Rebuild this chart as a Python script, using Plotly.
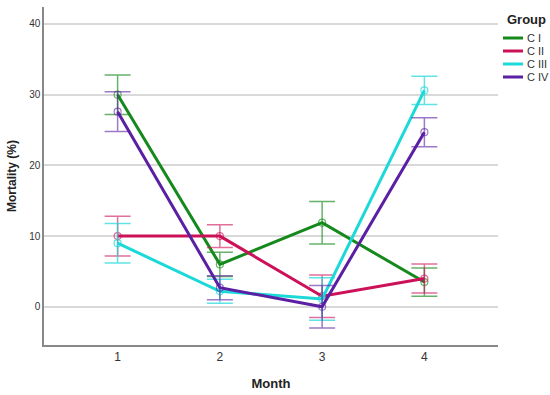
import plotly.graph_objects as go

months = [1, 2, 3, 4]
groups = ["C I", "C II", "C III", "C IV"]
colors = ["#15891c", "#cc1159", "#1bd9d9", "#5a1fa3"]
light = ["rgba(21,137,28,0.65)", "rgba(204,17,89,0.6)", "rgba(27,217,217,0.7)", "rgba(90,31,163,0.6)"]

mean_c1 = [30.0, 6.0, 11.9, 3.5]
err_c1 = [2.8, 1.7, 3.0, 2.0]
mean_c2 = [10.0, 10.0, 1.5, 4.0]
err_c2 = [2.8, 1.6, 3.0, 2.05]
mean_c3 = [9.0, 2.2, 1.1, 30.6]
err_c3 = [2.8, 1.7, 3.0, 2.0]
mean_c4 = [27.6, 2.7, 0.0, 24.7]
err_c4 = [2.8, 1.7, 3.0, 2.05]

means = [mean_c1, mean_c2, mean_c3, mean_c4]
errs = [err_c1, err_c2, err_c3, err_c4]

yticks = [0, 10, 20, 30, 40]

fig = go.Figure()
for g, m, e, c, lc in zip(groups, means, errs, colors, light):
    fig.add_trace(go.Scatter(
        x=months, y=m, name=g, mode="lines+markers",
        line=dict(color=c, width=3),
        marker=dict(symbol="circle-open", size=7, color=lc, line=dict(width=1.2, color=lc)),
        error_y=dict(type="data", array=e, visible=True, color=lc, thickness=1.5, width=13),
        showlegend=False,
    ))

W, H = 550, 395
L, R, T, B = 44, 52, 7, 50
pw, ph = W - L - R, H - T - B

def px(x):
    return (x - L) / pw

def py(y):
    return (H - B - y) / ph

shapes = []
annotations = [dict(x=px(505), y=py(20), xref="paper", yref="paper", text="<b>Group</b>",
                    showarrow=False, xanchor="left", yanchor="middle",
                    font=dict(size=13, color="#222", family="Liberation Sans, Arial"))]
for i, (g, c) in enumerate(zip(groups, colors)):
    yy = 38 + 13 * i
    shapes.append(dict(type="line", xref="paper", yref="paper", x0=px(503), x1=px(523),
                       y0=py(yy), y1=py(yy), line=dict(color=c, width=3)))
    annotations.append(dict(x=px(525), y=py(yy), xref="paper", yref="paper", text=g,
                            showarrow=False, xanchor="left", yanchor="middle",
                            font=dict(size=11, color="#333", family="Liberation Sans, Arial")))

fig.update_layout(
    width=W, height=H,
    margin=dict(l=L, r=R, t=T, b=B),
    plot_bgcolor="white", paper_bgcolor="white",
    font=dict(family="Liberation Sans, Arial", color="#333"),
    shapes=shapes, annotations=annotations,
    xaxis=dict(range=[0.28, 4.72], tickvals=months, ticktext=[str(m) for m in months],
               showgrid=False, zeroline=False, showline=True, linecolor="#888", linewidth=1.5,
               ticks="", tickfont=dict(size=12, color="#333"),
               title=dict(text="<b>Month</b>", font=dict(size=13, color="#222"), standoff=16)),
    yaxis=dict(range=[-5.4, 42.4], tickvals=yticks, showgrid=True, gridcolor="#d9d9d9", gridwidth=1.5,
               zeroline=False, showline=True, linecolor="#888", linewidth=1.5, ticks="",
               tickfont=dict(size=10, color="#333"), automargin=False,
               title=dict(text="<b>Mortality (%)</b>", font=dict(size=12, color="#222"), standoff=10)),
)

fig.write_html("out.html", config={"displayModeBar": False},
               post_script="document.body.style.margin='0';document.body.style.padding='0';")
